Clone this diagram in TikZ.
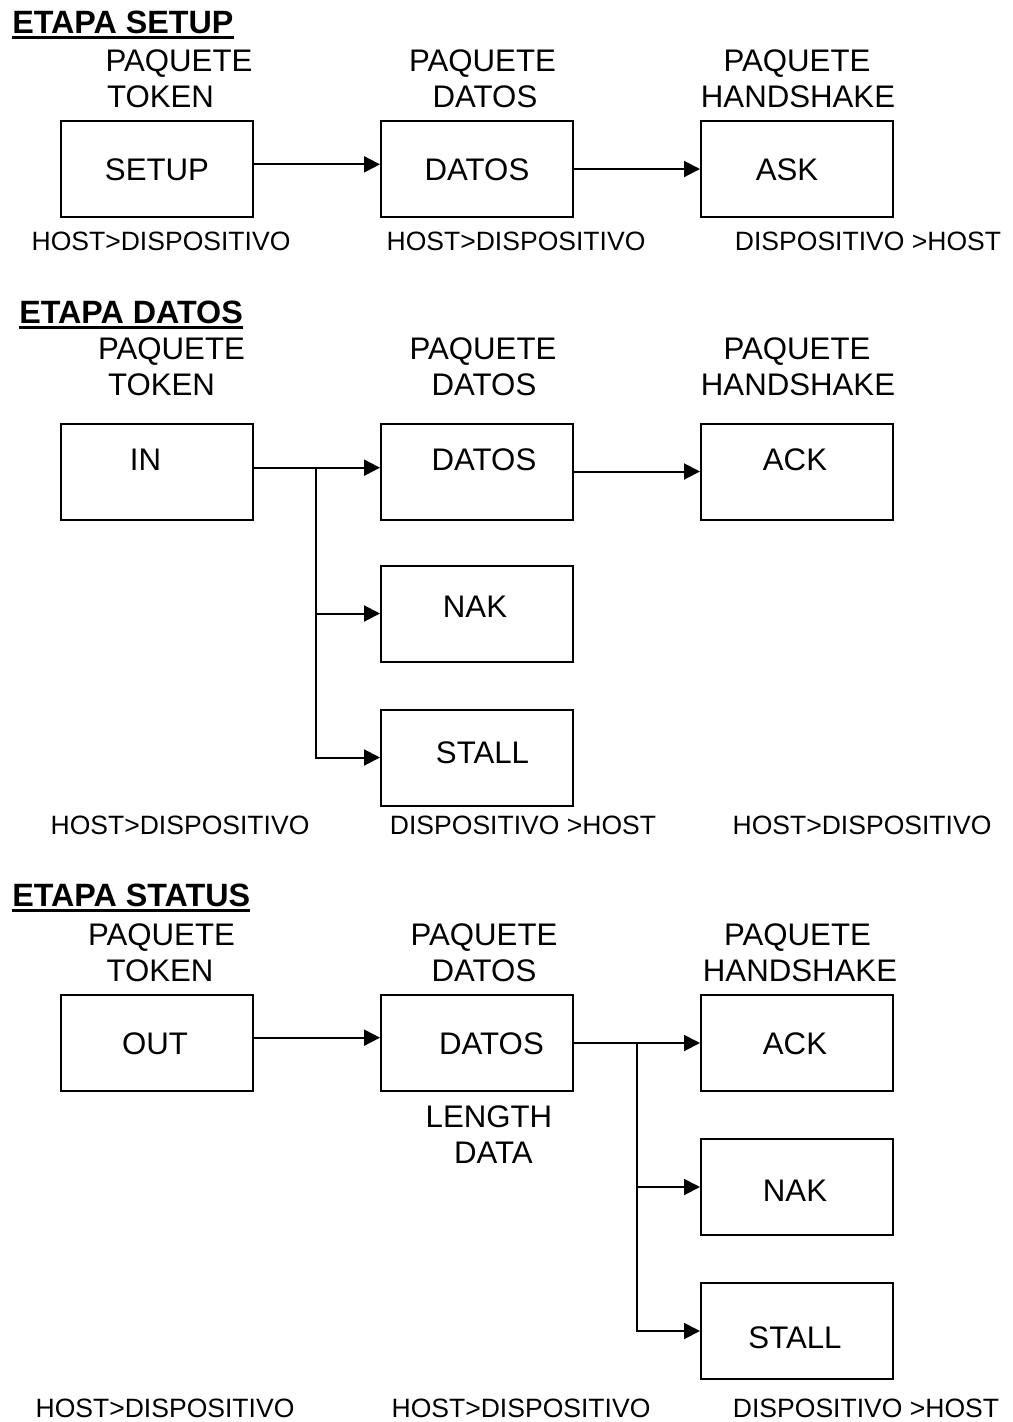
\documentclass[tikz,border=0pt]{standalone}
\usepackage{fontspec}
\setmainfont{Liberation Sans}
\usetikzlibrary{arrows.meta}
\begin{document}
\begin{tikzpicture}[x=0.75pt,y=-0.75pt,
  hdr/.style={font=\fontsize{23.4}{27}\selectfont, inner sep=0pt, anchor=base},
  lbl/.style={font=\fontsize{19.9}{24}\selectfont, inner sep=0pt, anchor=base},
  ttl/.style={font=\bfseries\fontsize{24.2}{28}\selectfont, inner sep=0pt, anchor=base west},
  uline/.style={line width=2.4pt},
  pbox/.style={draw, line width=1.5pt, rectangle, minimum width=144pt, minimum height=72pt, inner sep=0pt, anchor=north west},
  conn/.style={line width=1.5pt},
  arr/.style={conn, -{Triangle[length=12pt,width=12pt]}}
]
\useasboundingbox (0,0) rectangle (1013,1422);

% ================= ETAPA SETUP =================
\node[ttl] (t1) at (12,33) {ETAPA SETUP};
\draw[uline] ([yshift=-3.5pt]t1.base west) -- ([yshift=-3.5pt]t1.base east);

\node[hdr] (h1a1) at (179,71) {PAQUETE};
\node[hdr] (h1a2) at (160.5,107) {TOKEN};
\node[hdr] (h1b1) at (482.5,71) {PAQUETE};
\node[hdr] (h1b2) at (485,107) {DATOS};
\node[hdr] (h1c1) at (797,71) {PAQUETE};
\node[hdr] (h1c2) at (798,107) {HANDSHAKE};

\node[pbox] (s1a) at (60,120) {};
\node[pbox] (s1b) at (380,120) {};
\node[pbox] (s1c) at (700,120) {};
\node[hdr] (s1at) at (157,180) {SETUP};
\node[hdr] (s1bt) at (477,180) {DATOS};
\node[hdr] (s1ct) at (787,180) {ASK};

\draw[arr] ([yshift=3.5pt]s1a.east) -- ([yshift=3.5pt]s1b.west);
\draw[arr] (s1b.east) -- (s1c.west);

\node[lbl] (l1a) at (161,250) {HOST>DISPOSITIVO};
\node[lbl] (l1b) at (516,250) {HOST>DISPOSITIVO};
\node[lbl] (l1c) at (868,250) {DISPOSITIVO >HOST};

% ================= ETAPA DATOS =================
\node[ttl] (t2) at (19,323) {ETAPA DATOS};
\draw[uline] ([yshift=-3.2pt]t2.base west) -- ([yshift=-3.2pt]t2.base east);

\node[hdr] (h2a1) at (171.5,359) {PAQUETE};
\node[hdr] (h2a2) at (161.5,395) {TOKEN};
\node[hdr] (h2b1) at (483,359) {PAQUETE};
\node[hdr] (h2b2) at (484,395) {DATOS};
\node[hdr] (h2c1) at (797,359) {PAQUETE};
\node[hdr] (h2c2) at (798,395) {HANDSHAKE};

\node[pbox] (s2in) at (60,422.5) {};
\node[pbox] (s2dat) at (380,422.5) {};
\node[pbox] (s2ack) at (700,422.5) {};
\node[pbox] (s2nak) at (380,564.5) {};
\node[pbox] (s2stall) at (380,708.5) {};
\node[hdr] (s2int) at (145.5,470) {IN};
\node[hdr] (s2datt) at (484,470) {DATOS};
\node[hdr] (s2ackt) at (795,470) {ACK};
\node[hdr] (s2nakt) at (475,617) {NAK};
\node[hdr] (s2stallt) at (482.5,763) {STALL};

\coordinate (s2j) at (316,467);
\draw[arr] ([yshift=2.85pt]s2in.east) -- ([yshift=2.85pt]s2dat.west);
\draw[arr] (s2j) |- (s2nak.west);
\draw[arr] (s2j) |- (s2stall.west);
\draw[arr] (s2dat.east) -- (s2ack.west);

\node[lbl] (l2a) at (180,834.5) {HOST>DISPOSITIVO};
\node[lbl] (l2b) at (523,834.5) {DISPOSITIVO >HOST};
\node[lbl] (l2c) at (862,834.5) {HOST>DISPOSITIVO};

% ================= ETAPA STATUS =================
\node[ttl] (t3) at (12,906) {ETAPA STATUS};
\draw[uline] ([yshift=-3.3pt]t3.base west) -- ([yshift=-3.3pt]t3.base east);

\node[hdr] (h3a1) at (161.5,945) {PAQUETE};
\node[hdr] (h3a2) at (160,981) {TOKEN};
\node[hdr] (h3b1) at (484,945) {PAQUETE};
\node[hdr] (h3b2) at (484,981) {DATOS};
\node[hdr] (h3c1) at (797.5,945) {PAQUETE};
\node[hdr] (h3c2) at (800,981) {HANDSHAKE};

\node[pbox] (s3out) at (60,994) {};
\node[pbox] (s3dat) at (380,994) {};
\node[pbox] (s3ack) at (700,994) {};
\node[pbox] (s3nak) at (700,1138) {};
\node[pbox] (s3stall) at (700,1282) {};
\node[hdr] (s3outt) at (155,1054) {OUT};
\node[hdr] (s3datt) at (491.5,1054) {DATOS};
\node[hdr] (s3ackt) at (795,1054) {ACK};
\node[hdr] (s3nakt) at (795,1201) {NAK};
\node[hdr] (s3stallt) at (795,1348) {STALL};
\node[hdr] (s3len) at (489,1127) {LENGTH};
\node[hdr] (s3data) at (493.5,1163) {DATA};

\coordinate (s3j) at (637,1042);
\draw[arr] ([yshift=4pt]s3out.east) -- ([yshift=4pt]s3dat.west);
\draw[arr] (s3dat.east) -- (s3ack.west);
\draw[arr] (s3j) |- (s3nak.west);
\draw[arr] (s3j) |- (s3stall.west);

\node[lbl] (l3a) at (165,1417.5) {HOST>DISPOSITIVO};
\node[lbl] (l3b) at (521,1417.5) {HOST>DISPOSITIVO};
\node[lbl] (l3c) at (866,1417.5) {DISPOSITIVO >HOST};
\end{tikzpicture}
\end{document}
